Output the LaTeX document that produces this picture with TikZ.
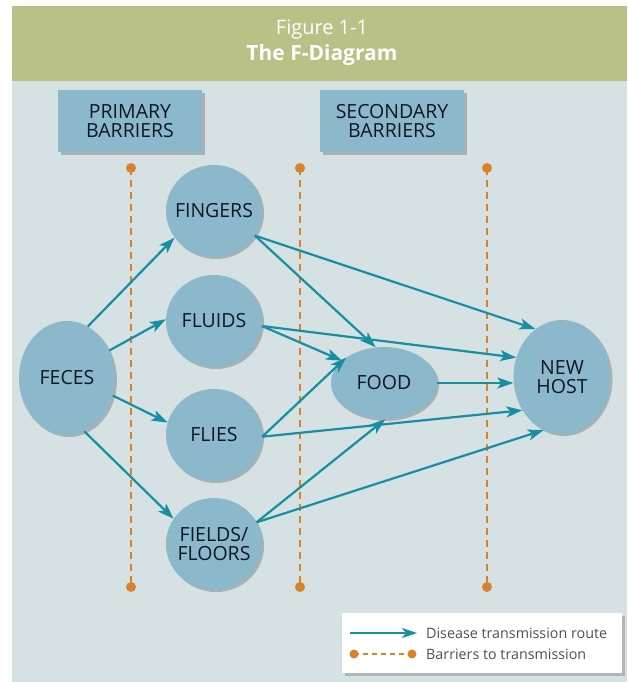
\documentclass[tikz,border=0pt]{standalone}
\usepackage{fontspec}
\setmainfont{Open Sans}
\usetikzlibrary{shapes.geometric,arrows.meta,shadows}
\definecolor{bgpanel}{HTML}{D5E1E2}
\definecolor{titlegreen}{HTML}{BBC086}
\definecolor{bubblefill}{HTML}{8BB9CB}
\definecolor{routecol}{HTML}{168FA3}
\definecolor{barriercol}{HTML}{D9822B}
\definecolor{inkcol}{HTML}{0E1822}
\definecolor{legendtext}{HTML}{505050}
\newcommand{\zwtext}[1]{\makebox[0pt][c]{#1}}
\tikzset{
  bubble/.style={ellipse, fill=bubblefill, inner sep=0pt, text=inkcol, align=center,
    font=\fontsize{19.5}{19}\selectfont,
    drop shadow={shadow xshift=2pt, shadow yshift=-2pt, opacity=0.35, fill=gray!70!black}},
  labelbox/.style={rectangle, fill=bubblefill, inner sep=0pt, text=inkcol, align=center,
    minimum width=144pt, minimum height=62pt, font=\fontsize{19.5}{19}\selectfont,
    drop shadow={shadow xshift=3pt, shadow yshift=-3pt, opacity=0.35, fill=gray!70!black}},
  route/.style={draw=routecol, line width=2.2pt, -{Stealth[length=16pt,width=11pt,inset=4pt]}},
  barrier/.style={draw=barriercol, line width=2.5pt, dash pattern=on 7pt off 5pt},
  barrierdot/.style={circle, fill=barriercol, inner sep=0pt, minimum size=10pt},
  legendtxt/.style={anchor=west, text=legendtext, inner sep=0pt, font=\fontsize{14.3}{15}\selectfont}
}
\begin{document}
\begin{tikzpicture}[x=1pt,y=-1pt]
\useasboundingbox (0,0) rectangle (627,682);
\fill[white] (0,0) rectangle (627,682);
\fill[titlegreen] (12,6) rectangle (627,81);
\fill[bgpanel] (12,81) rectangle (627,682);
% title
\node[text=white, font=\fontsize{20}{22}\selectfont] (title1) at (322,30) {Figure 1-1};
\node[text=white, font=\bfseries\fontsize{21}{22}\selectfont] (title2) at (322,55) {The F-Diagram};
% barrier labels
\node[labelbox] (primary) at (130,121) {PRIMARY\\BARRIERS};
\node[labelbox] (secondary) at (392,121) {SECONDARY\\BARRIERS};
% barrier lines
\foreach \n/\x in {b1/131, b2/300, b3/487} {
  \node[barrierdot] (\n top) at (\x,168) {};
  \node[barrierdot] (\n bot) at (\x,587) {};
  \draw[barrier] (\n top.center) -- (\n bot.center);
}
% nodes
\node[bubble, minimum width=96pt, minimum height=114pt] (feces) at (67,378) {\zwtext{FECES}};
\node[bubble, minimum width=96pt, minimum height=92pt] (fingers) at (214,211) {\zwtext{FINGERS}};
\node[bubble, minimum width=96pt, minimum height=92pt] (fluids) at (214,321) {\zwtext{FLUIDS}};
\node[bubble, minimum width=96pt, minimum height=92pt] (flies) at (214,435) {\zwtext{FLIES}};
\node[bubble, minimum width=96pt, minimum height=92pt] (fields) at (214,544) {\zwtext{FIELDS/}\\\zwtext{FLOORS}};
\node[bubble, minimum width=106pt, minimum height=72pt] (food) at (384,383) {\zwtext{FOOD}};
\node[bubble, minimum width=97pt, minimum height=114pt] (host) at (562,377) {\zwtext{NEW}\\\zwtext{HOST}};
% routes
\draw[route] (feces.68) -- (fingers.214);
\draw[route] (feces.33) -- (fluids.178);
\draw[route] (feces.-21) -- (flies.165);
\draw[route] (feces.-72) -- (fields.148);
\draw[route] (fingers.-31) -- (host.119);
\draw[route] (fingers.-31) -- (food.103);
\draw[route] (fluids.-6) -- (food.152);
\draw[route] (fluids.-6) -- (host.157);
\draw[route] (food.east) -- (host.west |- food.east);
\draw[route] (flies.-2) -- (food.146);
\draw[route] (flies.-2) -- (host.220);
\draw[route] (fields.27) -- (food.272);
\draw[route] (fields.27) -- (host.251);
% legend
\node[rectangle, fill=white, minimum width=280pt, minimum height=60pt, inner sep=0pt,
  drop shadow={shadow xshift=3pt, shadow yshift=-3pt, opacity=0.3, fill=gray!70!black}]
  (legend) at (482,643) {};
\coordinate (la1) at (350,633);
\coordinate (la2) at (417,633);
\draw[route, -{Stealth[length=15pt,width=10pt,inset=4pt]}] (la1) -- (la2);
\node[legendtxt] (lt1) at (426,633) {Disease transmission route};
\node[barrierdot, minimum size=9pt] (ld1) at (354,654) {};
\node[barrierdot, minimum size=9pt] (ld2) at (412,654) {};
\draw[barriercol, line width=2pt, dash pattern=on 5pt off 4pt] (ld1.center) -- (ld2.center);
\node[legendtxt] (lt2) at (426,654) {Barriers to transmission};
\end{tikzpicture}
\end{document}
